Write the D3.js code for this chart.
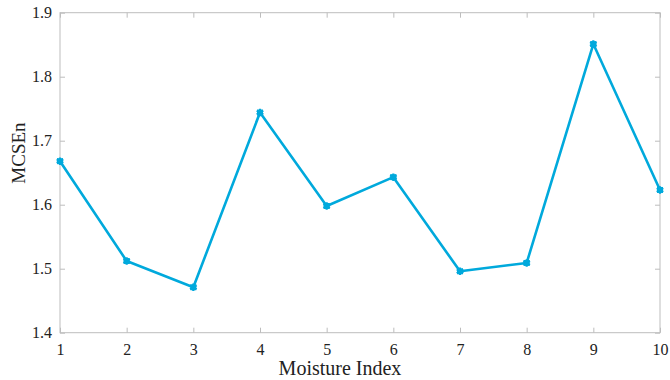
<!DOCTYPE html>
<html>
<head>
<meta charset="utf-8">
<script src="https://cdn.jsdelivr.net/npm/d3@7"></script>
<style>
  html, body { margin: 0; padding: 0; background: #fff; }
  svg { display: block; }
  text { font-family: "Liberation Serif", "Times New Roman", serif; fill: #222; }
</style>
</head>
<body>
<svg id="chart" width="670" height="380"></svg>
<script>
// Moisture index vs. MCSEn
const moistureIndex = [1, 2, 3, 4, 5, 6, 7, 8, 9, 10];
const mcsenValues = [1.668, 1.512, 1.471, 1.744, 1.598, 1.643, 1.496, 1.509, 1.851, 1.623];
const yTicks = [1.4, 1.5, 1.6, 1.7, 1.8, 1.9];
const xTicks = [1, 2, 3, 4, 5, 6, 7, 8, 9, 10];

const svg = d3.select("#chart");
const margin = { left: 60, right: 10, top: 12.7, bottom: 47.3 };
const W = 670, H = 380;
const x0 = margin.left, x1 = W - margin.right;
const y0 = H - margin.bottom, y1 = margin.top;

const x = d3.scaleLinear().domain([1, 10]).range([x0, x1]);
const y = d3.scaleLinear().domain([1.4, 1.9]).range([y0, y1]);

const axisColor = "#bdbdbd";
const tickLen = 5;
const serif = "'Liberation Serif', 'Times New Roman', serif";

// Box around the plot area
svg.append("rect")
  .attr("x", x0).attr("y", y1)
  .attr("width", x1 - x0).attr("height", y0 - y1)
  .attr("fill", "none").attr("stroke", axisColor).attr("stroke-width", 1);

// Bottom axis with inward ticks
const gx = svg.append("g").attr("transform", `translate(0,${y0})`)
  .call(d3.axisBottom(x).tickValues(xTicks).tickFormat(d3.format("d"))
    .tickSizeInner(-tickLen).tickSizeOuter(0).tickPadding(11));
// Left axis with inward ticks
const gy = svg.append("g").attr("transform", `translate(${x0},0)`)
  .call(d3.axisLeft(y).tickValues(yTicks).tickFormat(d3.format(".1f"))
    .tickSizeInner(-tickLen).tickSizeOuter(0).tickPadding(8));
// Mirrored ticks on top and right
svg.append("g").attr("transform", `translate(0,${y1})`)
  .call(d3.axisTop(x).tickValues(xTicks).tickFormat("").tickSizeInner(-tickLen).tickSizeOuter(0));
svg.append("g").attr("transform", `translate(${x1},0)`)
  .call(d3.axisRight(y).tickValues(yTicks).tickFormat("").tickSizeInner(-tickLen).tickSizeOuter(0));

svg.selectAll(".domain").attr("stroke", "none");
svg.selectAll(".tick line").attr("stroke", axisColor);
[gx, gy].forEach(g => {
  g.attr("font-family", serif).attr("font-size", 16);
  g.selectAll(".tick text")
    .style("font-family", serif).style("font-size", "16px").attr("fill", "#3a3a3a");
});

// Axis titles
svg.append("text")
  .attr("x", 340).attr("y", 375)
  .attr("text-anchor", "middle").attr("font-size", 20)
  .text("Moisture Index");
svg.append("text")
  .attr("transform", "translate(25,153) rotate(-90)")
  .attr("text-anchor", "middle").attr("font-size", 19)
  .text("MCSEn");

// Series
const lineColor = "#00a9dc";
const data = moistureIndex.map((m, i) => ({ m, v: mcsenValues[i] }));
svg.append("path")
  .datum(data)
  .attr("fill", "none").attr("stroke", lineColor).attr("stroke-width", 2.6)
  .attr("stroke-linejoin", "round")
  .attr("d", d3.line().x(d => x(d.m)).y(d => y(d.v)));

// Asterisk markers
const star = d3.symbol().type(d3.symbolAsterisk).size(40);
svg.append("g").selectAll("path.mk")
  .data(data).join("path")
  .attr("class", "mk")
  .attr("transform", d => `translate(${x(d.m)},${y(d.v)})`)
  .attr("d", star)
  .attr("fill", "none").attr("stroke", lineColor).attr("stroke-width", 2.2);
svg.append("g").selectAll("rect.mk")
  .data(data).join("rect")
  .attr("class", "mk")
  .attr("x", d => x(d.m) - 3).attr("y", d => y(d.v) - 3)
  .attr("width", 6).attr("height", 6)
  .attr("fill", lineColor);
</script>
</body>
</html>
